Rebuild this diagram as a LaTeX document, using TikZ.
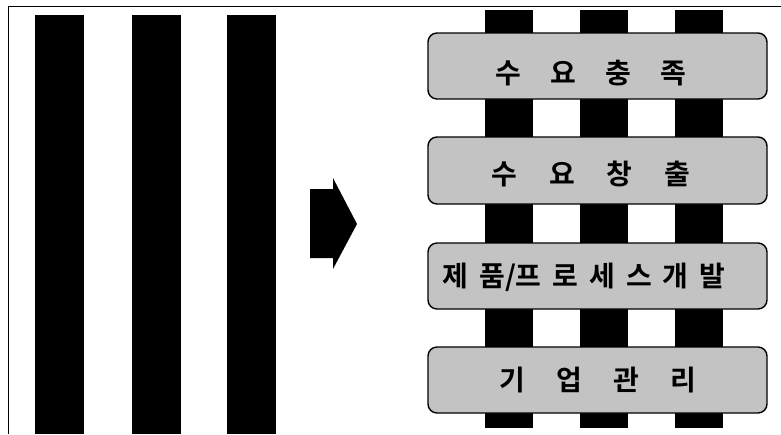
\documentclass[tikz,border=0pt]{standalone}
\usepackage{fontspec}
\newfontfamily\kofont{Noto Sans CJK KR}[BoldFont={* Bold}]
\definecolor{boxgray}{RGB}{195,195,195}
\begin{document}
\begin{tikzpicture}[x=1pt,y=-1pt,
  bar/.style={fill=black,draw=none},
  plank/.style={draw=black,line width=1.4pt,fill=boxgray,rounded corners=9pt},
  label/.style={font=\kofont\bfseries\fontsize{28}{30}\selectfont,inner sep=0pt,anchor=center},
  frameline/.style={draw=black,line width=0.9pt}]
\useasboundingbox (0,0) rectangle (781,434);
% frame
\draw[frameline] (8,434) -- (8,6) -- (781,6);
% left bars
\foreach \x in {35,132,227}{
  \fill[bar] (\x,15) rectangle ++(49,419);
}
% arrow
\fill[black] (310,189) -- (333,189) -- (333,178) -- (357,224) -- (333,269) -- (333,258) -- (310,258) -- cycle;
% right bars
\foreach \x in {485,580,675}{
  \fill[bar] (\x,10) rectangle ++(48,418);
}
% planks
\node[plank,minimum width=339pt,minimum height=66pt,inner sep=0pt] (p1) at (597.5,66) {};
\node[plank,minimum width=339pt,minimum height=67pt,inner sep=0pt] (p2) at (597.5,170.5) {};
\node[plank,minimum width=339pt,minimum height=66pt,inner sep=0pt] (p3) at (597.5,276) {};
\node[plank,minimum width=339pt,minimum height=66pt,inner sep=0pt] (p4) at (597.5,380) {};
% labels
\node[label] (t1) at (591,73) {수\hspace{29pt}요\hspace{29pt}충\hspace{29pt}족};
\node[label] (t2) at (591,174) {수\hspace{32pt}요\hspace{32pt}창\hspace{32pt}출};
\node[label] (t3) at (584,277) {제\hspace{11pt}품\hspace{0pt}/\hspace{0pt}프\hspace{11pt}로\hspace{11pt}세\hspace{11pt}스\hspace{11pt}개\hspace{11pt}발};
\node[label] (t4) at (598,380) {기\hspace{31pt}업\hspace{31pt}관\hspace{31pt}리};
\end{tikzpicture}
\end{document}
